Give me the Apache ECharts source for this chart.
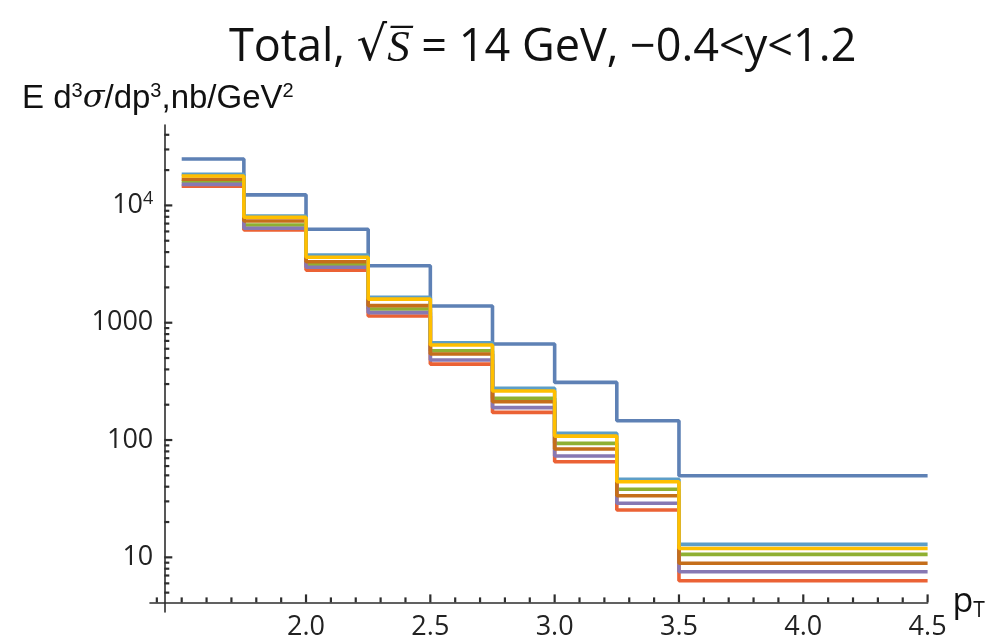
<!DOCTYPE html>
<html>
<head>
<meta charset="utf-8">
<script src="https://cdn.jsdelivr.net/npm/echarts@6/dist/echarts.min.js"></script>
<style>
html, body { margin: 0; padding: 0; background: #fff; }
#chart { width: 989px; height: 644px; }
</style>
</head>
<body>
<div id="chart"></div>
<script>
// bin edges in pT, GeV (last bin is 3.5 - 4.5)
var binEdges = [1.5, 1.75, 2.0, 2.25, 2.5, 2.75, 3.0, 3.25, 3.5, 4.5];

// E d3sigma/dp3 per bin, nb/GeV^2
var blueVals      = [24900, 12300, 6260, 3060, 1390, 658, 310, 146, 49.6];
var greenVals     = [16000, 6810, 3150, 1310, 577, 227, 93.7, 38.0, 10.6];
var redVals       = [14600, 6170, 2810, 1140, 444, 172, 65.3, 25.3, 6.32];
var purpleVals    = [15100, 6380, 2970, 1220, 481, 189, 73.1, 28.9, 7.54];
var brownVals     = [16700, 7360, 3310, 1400, 541, 212, 83.8, 33.5, 8.9];
var lightBlueVals = [18400, 8120, 3780, 1650, 675, 276, 114, 46.2, 12.9];
var yellowVals    = [17800, 7920, 3610, 1590, 645, 262, 108, 44.1, 11.9];

// ticks
var xMajorTicks = [2.0, 2.5, 3.0, 3.5, 4.0, 4.5];
var xMinorTicks = [1.4, 1.5, 1.6, 1.7, 1.8, 1.9, 2.1, 2.2, 2.3, 2.4, 2.6, 2.7, 2.8, 2.9,
                   3.1, 3.2, 3.3, 3.4, 3.6, 3.7, 3.8, 3.9, 4.1, 4.2, 4.3, 4.4];
var yMajorTicks = [10, 100, 1000, 10000];
var yMinorTicks = [5, 6, 7, 8, 9, 20, 30, 40, 50, 60, 70, 80, 90,
                   200, 300, 400, 500, 600, 700, 800, 900,
                   2000, 3000, 4000, 5000, 6000, 7000, 8000, 9000,
                   20000, 30000, 40000];

var xMin = 1.3725, xMax = 4.5;
var yMin = 3.42, yMax = 48470;
// where the axes cross (Mathematica style origin)
var xCross = 1.43, yCross = 4.13;
var axisColor = '#2e2e2e';

function stepData(vals) {
    // repeat the last value so the final bin gets its right edge
    return binEdges.map(function (x, i) {
        return [x, vals[Math.min(i, vals.length - 1)]];
    });
}

function stepSeries(name, vals, color) {
    return {
        name: name,
        type: 'line',
        step: 'end',
        symbol: 'none',
        data: stepData(vals),
        lineStyle: { color: color, width: 3.6 },
        itemStyle: { color: color },
        z: 3
    };
}

// inward tick marks, drawn as thin rect symbols at the tick values on the axis lines
function tickSeries(dim, values, len) {
    return {
        type: 'scatter',
        silent: true,
        clip: false,
        z: 6,
        symbol: 'rect',
        symbolSize: dim === 'x' ? [2.2, len] : [len, 2.2],
        symbolOffset: dim === 'x' ? [0, -len / 2] : [len / 2, 0],
        itemStyle: { color: axisColor, opacity: 1 },
        data: values.map(function (v) { return dim === 'x' ? [v, yCross] : [xCross, v]; })
    };
}

var myChart = echarts.init(document.getElementById('chart'));

var option = {
    animation: false,
    backgroundColor: '#fff',
    title: [
        {
            text: 'Total, {rad|√}{s|S̅} = 14 GeV, −0.4<y<1.2',
            left: 224,
            top: 19,
            textStyle: {
                fontFamily: 'Open Sans',
                fontSize: 45,
                fontWeight: 'normal',
                color: '#111',
                rich: {
                    rad: { fontFamily: 'DejaVu Sans', fontSize: 48, color: '#111' },
                    s: { fontFamily: 'Open Sans', fontStyle: 'italic', fontSize: 45, color: '#111' }
                }
            }
        },
        {
            text: 'E d{sup|3}{sig|σ}/dp{sup|3},nb/GeV{sup|2}',
            left: 17,
            top: 76,
            textStyle: {
                fontFamily: 'Liberation Sans',
                fontSize: 33,
                fontWeight: 'normal',
                color: '#111',
                rich: {
                    sup: { fontFamily: 'Liberation Sans', fontSize: 20, color: '#111', padding: [0, 0, 15, 0] },
                    sig: { fontFamily: 'DejaVu Serif', fontStyle: 'italic', fontSize: 32, color: '#111' }
                }
            }
        }
    ],
    grid: { left: 150, right: 61.4, top: 125, bottom: 32, containLabel: false },
    xAxis: {
        type: 'value',
        min: xMin,
        max: xMax,
        position: 'bottom',
        offset: -9.7,
        name: 'p{sub|T}',
        nameLocation: 'end',
        nameGap: 7,
        nameTextStyle: {
            fontFamily: 'Open Sans',
            fontSize: 34,
            color: '#111',
            rich: { sub: { fontFamily: 'Open Sans', fontSize: 21, color: '#111', padding: [18, 0, 0, 0] } }
        },
        axisLine: { show: true, lineStyle: { color: axisColor, width: 1.6 } },
        axisTick: { show: false },
        axisLabel: {
            customValues: xMajorTicks,
            margin: 12,
            fontFamily: 'Open Sans',
            fontSize: 27,
            color: '#222',
            formatter: function (v) { return v.toFixed(1); }
        },
        splitLine: { show: false }
    },
    yAxis: {
        type: 'log',
        logBase: 10,
        min: yMin,
        max: yMax,
        position: 'left',
        offset: -14.3,
        axisLine: { show: true, lineStyle: { color: axisColor, width: 1.6 } },
        axisTick: { show: false },
        axisLabel: {
            customValues: yMajorTicks,
            margin: 11,
            fontFamily: 'Open Sans',
            fontSize: 27,
            color: '#222',
            formatter: function (v) {
                if (v >= 10000) return '10{sup|4}';
                return String(Math.round(v));
            },
            rich: { sup: { fontFamily: 'Open Sans', fontSize: 18, color: '#222', padding: [0, 0, 14, 0] } }
        },
        splitLine: { show: false }
    },
    series: [
        stepSeries('blue', blueVals, '#5E81B5'),
        stepSeries('green', greenVals, '#8FB032'),
        stepSeries('red', redVals, '#EB6235'),
        stepSeries('purple', purpleVals, '#8778B3'),
        stepSeries('brown', brownVals, '#C56E1A'),
        stepSeries('lightblue', lightBlueVals, '#5D9EC7'),
        stepSeries('yellow', yellowVals, '#FFBF00'),
        tickSeries('x', xMajorTicks, 8),
        tickSeries('x', xMinorTicks, 5),
        tickSeries('y', yMajorTicks, 8),
        tickSeries('y', yMinorTicks, 5)
    ]
};

myChart.setOption(option);
</script>
</body>
</html>
